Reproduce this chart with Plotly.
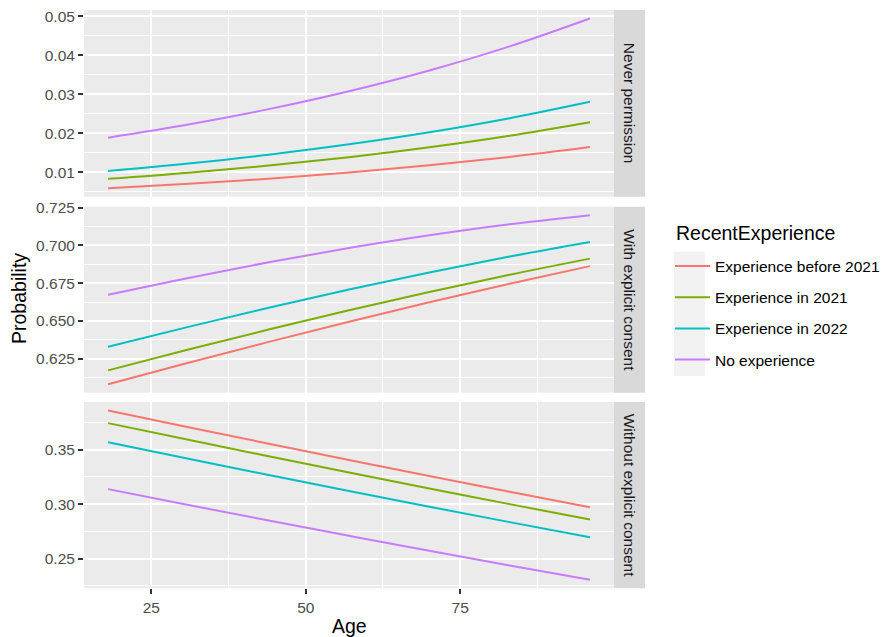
import plotly.graph_objects as go
from plotly.subplots import make_subplots

# Predicted probabilities by age for each consent outcome
ages = [18, 31, 44, 57, 70, 83, 96]

groups = ["Experience before 2021", "Experience in 2021", "Experience in 2022", "No experience"]
colors = ["#F8766D", "#7CAE00", "#00BFC4", "#C77CFF"]

panels = ["Never permission", "With explicit consent", "Without explicit consent"]

never_permission = {
    "Experience before 2021": [0.00596, 0.00708, 0.00841, 0.00997, 0.01181, 0.01397, 0.01650],
    "Experience in 2021": [0.00836, 0.00992, 0.01175, 0.01390, 0.01643, 0.01939, 0.02285],
    "Experience in 2022": [0.01039, 0.01230, 0.01455, 0.01719, 0.02028, 0.02389, 0.02810],
    "No experience": [0.01890, 0.02227, 0.02621, 0.03079, 0.03611, 0.04228, 0.04942],
}
with_consent = {
    "Experience before 2021": [0.60802, 0.62227, 0.63609, 0.64948, 0.66236, 0.67464, 0.68630],
    "Experience in 2021": [0.61722, 0.63099, 0.64426, 0.65702, 0.66913, 0.68057, 0.69126],
    "Experience in 2022": [0.63281, 0.64605, 0.65870, 0.67075, 0.68207, 0.69262, 0.70227],
    "No experience": [0.66730, 0.67848, 0.68885, 0.69827, 0.70670, 0.71400, 0.72006],
}
without_consent = {
    "Experience before 2021": [0.38602, 0.37065, 0.35550, 0.34055, 0.32584, 0.31140, 0.29720],
    "Experience in 2021": [0.37441, 0.35910, 0.34399, 0.32909, 0.31444, 0.30004, 0.28589],
    "Experience in 2022": [0.35680, 0.34165, 0.32675, 0.31206, 0.29766, 0.28349, 0.26962],
    "No experience": [0.31380, 0.29925, 0.28495, 0.27094, 0.25719, 0.24371, 0.23052],
}
panel_data = [never_permission, with_consent, without_consent]

x_ticks = [25, 50, 75]
x_minor = [37.5, 62.5, 87.5]
y_ticks = [
    [0.01, 0.02, 0.03, 0.04, 0.05],
    [0.625, 0.65, 0.675, 0.70, 0.725],
    [0.25, 0.30, 0.35],
]
y_labels = [
    ["0.01", "0.02", "0.03", "0.04", "0.05"],
    ["0.625", "0.650", "0.675", "0.700", "0.725"],
    ["0.25", "0.30", "0.35"],
]
y_minor = [
    [0.005, 0.015, 0.025, 0.035, 0.045],
    [0.6125, 0.6375, 0.6625, 0.6875, 0.7125],
    [0.225, 0.275, 0.325, 0.375],
]

W, H = 885, 637
FONT = "Liberation Sans, Arial, sans-serif"

fig = make_subplots(rows=3, cols=1, shared_xaxes=False)

for r, data in enumerate(panel_data, start=1):
    for g, c in zip(groups, colors):
        fig.add_trace(
            go.Scatter(
                x=ages, y=data[g], mode="lines", name=g,
                line=dict(color=c, width=2, shape="spline", smoothing=1),
                legendgroup=g, showlegend=(r == 1),
            ),
            row=r, col=1,
        )

def ggrange(vals, frac=0.05):
    lo, hi = min(vals), max(vals)
    pad = (hi - lo) * frac
    return [lo - pad, hi + pad]

x_range = ggrange(ages)

# panel geometry in pixels (top, bottom)
px_left, px_right = 84, 614
panel_px = [(10, 196.7), (206.7, 392.7), (402, 588.3)]

for i, (top, bot) in enumerate(panel_px):
    n = i + 1
    xa = "xaxis" if n == 1 else f"xaxis{n}"
    ya = "yaxis" if n == 1 else f"yaxis{n}"
    allv = [v for g in groups for v in panel_data[i][g]]
    fig.layout[xa].update(
        domain=[px_left / W, px_right / W],
        range=x_range, tickvals=x_ticks, ticktext=[str(t) for t in x_ticks],
        showgrid=True, gridcolor="white", gridwidth=2, zeroline=False,
        showline=False, automargin=False,
        minor=dict(tickvals=x_minor, showgrid=True, gridcolor="white", gridwidth=1, ticks=""),
        showticklabels=(n == 3), ticks="outside" if n == 3 else "",
        ticklen=5, tickwidth=1.6, tickcolor="#333333",
        tickfont=dict(family=FONT, size=15.5, color="#4D4D4D"),
    )
    fig.layout[ya].update(
        domain=[1 - bot / H, 1 - top / H],
        range=ggrange(allv), tickvals=y_ticks[i], ticktext=y_labels[i],
        showgrid=True, gridcolor="white", gridwidth=2, zeroline=False,
        showline=False, automargin=False,
        minor=dict(tickvals=y_minor[i], showgrid=True, gridcolor="white", gridwidth=1, ticks=""),
        ticks="outside", ticklen=5, tickwidth=1.6, tickcolor="#333333",
        tickfont=dict(family=FONT, size=15.5, color="#4D4D4D"),
    )
    # facet strip
    fig.add_shape(
        type="rect", xref="paper", yref="paper",
        x0=px_right / W, x1=645 / W, y0=1 - bot / H, y1=1 - top / H,
        fillcolor="#D9D9D9", line=dict(width=0), layer="below",
    )
    fig.add_annotation(
        x=629.5 / W, y=1 - (top + bot) / 2 / H, xref="paper", yref="paper",
        text=panels[i], textangle=90, showarrow=False,
        font=dict(family=FONT, size=15.5, color="#1A1A1A"),
        xanchor="center", yanchor="middle",
    )

# legend key background and title
fig.add_shape(
    type="rect", xref="paper", yref="paper",
    x0=674 / W, x1=705 / W, y0=1 - 376 / H, y1=1 - 251.7 / H,
    fillcolor="#F2F2F2", line=dict(width=0), layer="below",
)
fig.add_annotation(
    x=674 / W, y=1 - 233 / H, xref="paper", yref="paper",
    text="RecentExperience", showarrow=False,
    font=dict(family=FONT, size=19.5, color="black"),
    xanchor="left", yanchor="middle",
)

# axis titles
fig.add_annotation(
    x=(px_left + px_right) / 2 / W, y=1 - 626 / H, xref="paper", yref="paper",
    text="Age", showarrow=False, font=dict(family=FONT, size=19.5, color="black"),
    xanchor="center", yanchor="middle",
)
fig.add_annotation(
    x=19 / W, y=1 - 299 / H, xref="paper", yref="paper",
    text="Probability", textangle=-90, showarrow=False,
    font=dict(family=FONT, size=19.5, color="black"),
    xanchor="center", yanchor="middle",
)

fig.update_layout(
    width=W, height=H,
    margin=dict(l=0, r=0, t=0, b=0),
    paper_bgcolor="white", plot_bgcolor="#EBEBEB",
    font=dict(family=FONT, color="black"),
    legend=dict(
        font=dict(family=FONT, size=15.5, color="black"),
        x=670 / W, xanchor="left", y=1 - 249.5 / H, yanchor="top",
        bgcolor="rgba(0,0,0,0)", tracegroupgap=8, itemwidth=35,
    ),
)

fig.write_html("out.html")
